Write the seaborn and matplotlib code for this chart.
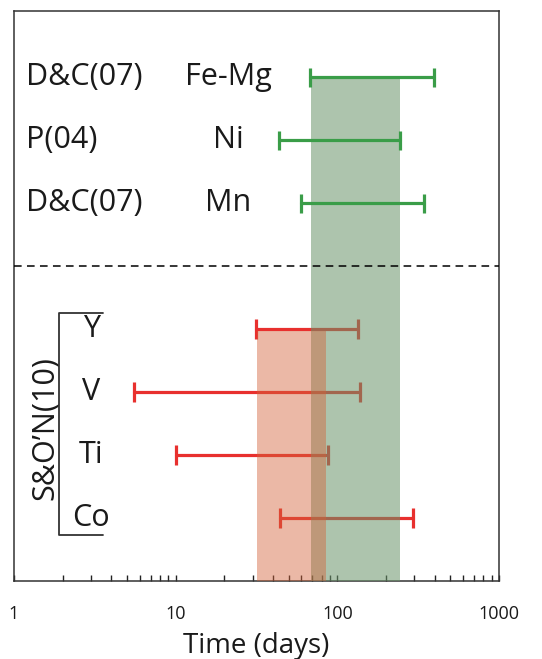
import pandas as pd
import numpy as np
import matplotlib.pyplot as plt
import seaborn as sns
from matplotlib.ticker import LogLocator, FixedLocator, NullFormatter, FixedFormatter

sns.set_theme(style="ticks")
plt.rcParams['font.family'] = ['Open Sans', 'DejaVu Sans']

# data (time in days)
refs = ['D&C(07)', 'P(04)', 'D&C(07)']
upper_elems = ['Fe-Mg', 'Ni', 'Mn']
upper_lo = [68, 43.5, 60]
upper_hi = [394, 245, 345]
upper_row = [8, 7, 6]

lower_elems = ['Y', 'V', 'Ti', 'Co']
lower_lo = [31.5, 5.55, 10.1, 44.2]
lower_hi = [135, 139, 87.5, 292]
lower_row = [4, 3, 2, 1]

green_band = (69, 244)
red_band = (32, 85)
tick_vals = [1, 10, 100, 1000]
tick_labels = ['1', '10', '100', '1000']

GREEN = '#3a9d48'
RED = '#e8302e'

up = pd.DataFrame({'elem': upper_elems, 'lo': upper_lo, 'hi': upper_hi, 'row': upper_row, 'grp': 'up'})
low = pd.DataFrame({'elem': lower_elems, 'lo': lower_lo, 'hi': lower_hi, 'row': lower_row, 'grp': 'low'})
iv = pd.concat([up, low], ignore_index=True)
seg = iv.melt(id_vars=['elem', 'row', 'grp'], value_vars=['lo', 'hi'], value_name='time')

fig = plt.figure(figsize=(5.42, 6.59), dpi=100)
ax = fig.add_axes([0.0258, 0.1184, 0.8949, 0.8649])
ax.set_xscale('log')

pal = {'up': GREEN, 'low': RED}
# red intervals (drawn under the shaded bands)
sns.lineplot(data=seg[seg.grp == 'low'], x='time', y='row', units='elem', estimator=None,
             hue='grp', palette=pal, sort=False, lw=2.3, legend=False, ax=ax, zorder=2)
sns.scatterplot(data=seg[seg.grp == 'low'], x='time', y='row', hue='grp', palette=pal,
                marker='|', s=190, linewidth=2.3, legend=False, ax=ax, zorder=2)

# shaded bands
ax.fill_betweenx([0, upper_row[0] - 0.03], green_band[0], green_band[1],
                 color='#6a946a', alpha=0.55, lw=0, zorder=3)
ax.fill_betweenx([0, lower_row[0] - 0.03], red_band[0], red_band[1],
                 color='#d3633a', alpha=0.45, lw=0, zorder=4)

# green intervals on top
sns.lineplot(data=seg[seg.grp == 'up'], x='time', y='row', units='elem', estimator=None,
             hue='grp', palette=pal, sort=False, lw=2.3, legend=False, ax=ax, zorder=5)
sns.scatterplot(data=seg[seg.grp == 'up'], x='time', y='row', hue='grp', palette=pal,
                marker='|', s=190, linewidth=2.3, legend=False, ax=ax, zorder=5)

ax.axhline(5, color='black', lw=1.1, ls=(0, (5, 3.5)), zorder=6)

fs = 22
for r, e, rw in zip(refs, upper_elems, upper_row):
    ax.text(1.186, rw, r, fontsize=fs, ha='left', va='center', color='#1a1a1a')
    ax.text(21.1, rw, e, fontsize=fs, ha='center', va='center', color='#1a1a1a')
for e, rw in zip(lower_elems, lower_row):
    ax.text(3.0, rw, e, fontsize=fs, ha='center', va='center', color='#1a1a1a')

# bracket for S&O'N(10)
ax.plot([3.55, 1.905, 1.905, 3.55], [4.25, 4.25, 0.73, 0.73], color='#333333', lw=1.3, zorder=6)
ax.text(1.56, 2.43, "S&O’N(10)", fontsize=fs, rotation=90, ha='center', va='center', color='#1a1a1a')

ax.set_xlim(1, 1000)
ax.set_ylim(0, 9.05)
ax.set_yticks([])
ax.set_ylabel('')
ax.xaxis.set_major_locator(FixedLocator(tick_vals))
ax.xaxis.set_major_formatter(FixedFormatter(tick_labels))
ax.xaxis.set_minor_locator(LogLocator(base=10, subs=np.arange(2, 10)))
ax.xaxis.set_minor_formatter(NullFormatter())
ax.tick_params(axis='x', which='both', direction='in', length=4, width=1, color='#222222',
               labelsize=13, pad=17, labelcolor='#1a1a1a')
ax.set_xlabel('Time (days)', fontsize=20, labelpad=6.5, color='#1a1a1a')
for s in ax.spines.values():
    s.set_visible(True)
    s.set_color('#333333')
    s.set_linewidth(1.1)

fig.savefig('out.png', dpi=100)
